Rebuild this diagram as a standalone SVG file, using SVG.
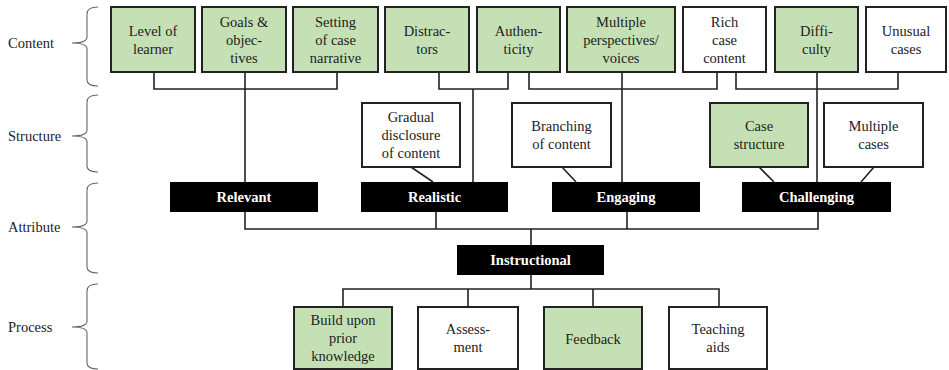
<svg xmlns="http://www.w3.org/2000/svg" width="949" height="370" viewBox="0 0 949 370">
<style>
text{font-size:14.5px;fill:#222;text-anchor:middle}
.lbl{text-anchor:start}
.bx{fill:#fff;stroke:#222;stroke-width:2}
.g{fill:#c5e0b4}
.blk{fill:#000}
.bt{fill:#fff;font-weight:bold}
.ln{fill:none;stroke:#222;stroke-width:1.6}
.br{fill:none;stroke:#666;stroke-width:1.1}
</style>
<rect width="949" height="370" fill="#fff"/>
<g id="labels">
<text class="lbl" style="font-family:'Liberation Serif'" x="8" y="48">Content</text>
<path class="br" d="M98,7 Q87,7 87,14 L87,37 Q87,43 72,43 Q87,43 87,49 L87,80 Q87,86 98,86"/>
<text class="lbl" style="font-family:'Liberation Serif'" x="8" y="141">Structure</text>
<path class="br" d="M98,95 Q87,95 87,102 L87,130 Q87,136 72,136 Q87,136 87,142 L87,166 Q87,172 98,172"/>
<text class="lbl" style="font-family:'Liberation Serif'" x="8" y="232">Attribute</text>
<path class="br" d="M98,183 Q87,183 87,190 L87,221 Q87,227 72,227 Q87,227 87,233 L87,267 Q87,273 98,273"/>
<text class="lbl" style="font-family:'Liberation Serif'" x="8" y="332">Process</text>
<path class="br" d="M98,284 Q87,284 87,291 L87,321 Q87,327 72,327 Q87,327 87,333 L87,363 Q87,369 98,369"/>
</g>
<g id="connectors">
<path class="ln" d="M154,72 V89 H337 V72 M245,72 V182"/>
<path class="ln" d="M439,72 V89 H508 V72 M473,89 V182"/>
<path class="ln" d="M529,72 V89 H717 V72 M622,72 V182"/>
<path class="ln" d="M736,72 V89 H898 V72 M817,72 V182"/>
<path class="ln" d="M411,167 L433,182 M562,167 L576,182 M759,167 L774,182 M874,167 L861,182"/>
<path class="ln" d="M245,212 V229 H818 V212 M436,212 V229 M627,212 V229 M531,229 V245"/>
<path class="ln" d="M531,275 V289 M343,307 V289 H719 V307 M468,289 V307 M593,289 V307"/>
</g>
<g id="n-level"><rect class="bx g" x="111" y="7" width="84" height="65"/><text style="font-family:'Liberation Serif'" x="153" y="35.5">Level of</text><text style="font-family:'Liberation Serif'" x="153" y="53.5">learner</text></g>
<g id="n-goals"><rect class="bx g" x="202" y="7" width="84" height="65"/><text style="font-family:'Liberation Serif'" x="244" y="26.5">Goals &amp;</text><text style="font-family:'Liberation Serif'" x="244" y="44.5">objec-</text><text style="font-family:'Liberation Serif'" x="244" y="62.5">tives</text></g>
<g id="n-setting"><rect class="bx g" x="293" y="7" width="85" height="65"/><text style="font-family:'Liberation Serif'" x="335.5" y="26.5">Setting</text><text style="font-family:'Liberation Serif'" x="335.5" y="44.5">of case</text><text style="font-family:'Liberation Serif'" x="335.5" y="62.5">narrative</text></g>
<g id="n-distractors"><rect class="bx g" x="385" y="7" width="84" height="65"/><text style="font-family:'Liberation Serif'" x="427" y="35.5">Distrac-</text><text style="font-family:'Liberation Serif'" x="427" y="53.5">tors</text></g>
<g id="n-authenticity"><rect class="bx g" x="477" y="7" width="83" height="65"/><text style="font-family:'Liberation Serif'" x="518.5" y="35.5">Authen-</text><text style="font-family:'Liberation Serif'" x="518.5" y="53.5">ticity</text></g>
<g id="n-multiple"><rect class="bx g" x="567" y="7" width="108" height="65"/><text style="font-family:'Liberation Serif'" x="621" y="26.5">Multiple</text><text style="font-family:'Liberation Serif'" x="621" y="44.5">perspectives/</text><text style="font-family:'Liberation Serif'" x="621" y="62.5">voices</text></g>
<g id="n-rich"><rect class="bx" x="683" y="7" width="83" height="65"/><text style="font-family:'Liberation Serif'" x="724.5" y="26.5">Rich</text><text style="font-family:'Liberation Serif'" x="724.5" y="44.5">case</text><text style="font-family:'Liberation Serif'" x="724.5" y="62.5">content</text></g>
<g id="n-difficulty"><rect class="bx g" x="775" y="7" width="83" height="65"/><text style="font-family:'Liberation Serif'" x="816.5" y="35.5">Diffi-</text><text style="font-family:'Liberation Serif'" x="816.5" y="53.5">culty</text></g>
<g id="n-unusual"><rect class="bx" x="866" y="7" width="80" height="65"/><text style="font-family:'Liberation Serif'" x="906" y="35.5">Unusual</text><text style="font-family:'Liberation Serif'" x="906" y="53.5">cases</text></g>
<g id="n-gradual"><rect class="bx" x="362" y="103" width="98" height="64"/><text style="font-family:'Liberation Serif'" x="411" y="122">Gradual</text><text style="font-family:'Liberation Serif'" x="411" y="140">disclosure</text><text style="font-family:'Liberation Serif'" x="411" y="158">of content</text></g>
<g id="n-branching"><rect class="bx" x="512" y="103" width="99" height="64"/><text style="font-family:'Liberation Serif'" x="561.5" y="131">Branching</text><text style="font-family:'Liberation Serif'" x="561.5" y="149">of content</text></g>
<g id="n-casestructure"><rect class="bx g" x="710" y="103" width="98" height="64"/><text style="font-family:'Liberation Serif'" x="759" y="131">Case</text><text style="font-family:'Liberation Serif'" x="759" y="149">structure</text></g>
<g id="n-multiplecases"><rect class="bx" x="824" y="103" width="99" height="64"/><text style="font-family:'Liberation Serif'" x="873.5" y="131">Multiple</text><text style="font-family:'Liberation Serif'" x="873.5" y="149">cases</text></g>
<g id="n-relevant"><rect class="blk" x="170" y="182" width="148" height="30"/><text class="bt" style="font-family:'Liberation Serif'" x="244" y="202">Relevant</text></g>
<g id="n-realistic"><rect class="blk" x="361" y="182" width="147" height="30"/><text class="bt" style="font-family:'Liberation Serif'" x="434.5" y="202">Realistic</text></g>
<g id="n-engaging"><rect class="blk" x="552" y="182" width="148" height="30"/><text class="bt" style="font-family:'Liberation Serif'" x="626" y="202">Engaging</text></g>
<g id="n-challenging"><rect class="blk" x="742" y="182" width="149" height="30"/><text class="bt" style="font-family:'Liberation Serif'" x="816.5" y="202">Challenging</text></g>
<g id="n-instructional"><rect class="blk" x="457" y="245" width="147" height="30"/><text class="bt" style="font-family:'Liberation Serif'" x="530.5" y="265">Instructional</text></g>
<g id="n-build"><rect class="bx g" x="294" y="307" width="98" height="62"/><text style="font-family:'Liberation Serif'" x="343" y="325">Build upon</text><text style="font-family:'Liberation Serif'" x="343" y="343">prior</text><text style="font-family:'Liberation Serif'" x="343" y="361">knowledge</text></g>
<g id="n-assessment"><rect class="bx" x="418" y="307" width="100" height="62"/><text style="font-family:'Liberation Serif'" x="468" y="334">Assess-</text><text style="font-family:'Liberation Serif'" x="468" y="352">ment</text></g>
<g id="n-feedback"><rect class="bx g" x="544" y="307" width="98" height="62"/><text style="font-family:'Liberation Serif'" x="593" y="344">Feedback</text></g>
<g id="n-teaching"><rect class="bx" x="669" y="307" width="98" height="62"/><text style="font-family:'Liberation Serif'" x="718" y="334">Teaching</text><text style="font-family:'Liberation Serif'" x="718" y="352">aids</text></g>
</svg>
